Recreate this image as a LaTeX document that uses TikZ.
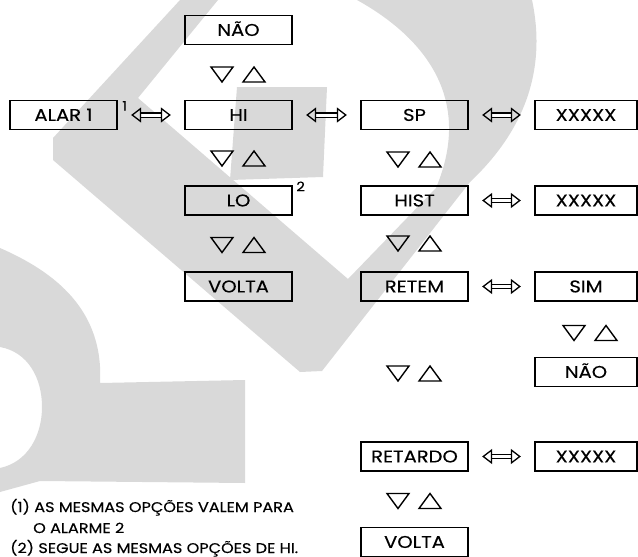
\documentclass[tikz,border=0pt]{standalone}
\usepackage{fontspec}
\setmainfont{Poppins}[FakeStretch=1.15,FakeBold=0.3]
\usetikzlibrary{arrows.meta,positioning}
\definecolor{logo}{RGB}{217,217,217}

\begin{document}
\begin{tikzpicture}[x=1pt,y=-1pt,
    menubox/.style={draw,line width=1.3pt,minimum height=29pt,inner sep=0pt,
      text height=11.8pt,text depth=0pt,font=\fontsize{17}{17}\selectfont},
    dblarrow/.style={double,double distance=3pt,line width=1.3pt,
      {Triangle[open,length=10pt,width=15pt]}-{Triangle[open,length=10pt,width=15pt]},
      shorten <=13.5pt,shorten >=13.5pt},
    note/.style={anchor=base west,inner sep=0pt,font=\fontsize{14}{14}\selectfont},
    fnmark/.style={inner sep=0pt,font=\fontsize{13}{13}\selectfont},
    updown/.pic={\draw[line width=1.4pt] (-27,-7.5) -- (-5,-7.5) -- (-16,7.5) -- cycle
      (5,7.5) -- (27,7.5) -- (16,-7.5) -- cycle;}]
  \useasboundingbox (0,0) rectangle (638,557);
  % logo in the background
  \begin{scope}
    \clip (0,0) rectangle (638,557);
    \fill[logo] (180,0) -- (53,138) -- (53,160) -- (300,372) -- (322,371) -- (470,182)
      .. controls (520,135) and (548,75) .. (532,0) -- (357,0)
      .. controls (420,35) and (475,95) .. (436,188) -- (348,279) -- (138,98) -- (218,0) -- cycle;
    \fill[logo] (237,87) -- (327,87) -- (323,177) -- (230,180) -- cycle;
    \fill[logo] (0,248) .. controls (55,272) and (104,310) .. (100,383) -- (245,380) -- (245,483)
      -- (40,481) -- (0,492) -- (0,468) .. controls (28,462) and (42,435) .. (42,407)
      .. controls (42,378) and (28,352) .. (0,347) -- cycle;
  \end{scope}
  % menu boxes
  \foreach \n/\x/\y/\w/\t in {
      nao/238.5/30/107/NÃO, alar/63.5/115/107/ALAR 1, hi/238.5/115/107/HI,
      lo/238.5/200.5/107/LO, voltaa/238.5/286.5/107/VOLTA,
      sp/414.5/115/107/SP, hist/414.5/200.5/107/HIST, retem/414.5/286.5/107/RETEM,
      retardo/414.5/456.5/107/RETARDO, voltab/414.5/542/107/VOLTA,
      xa/586/115/102/XXXXX, xb/586/200.5/102/XXXXX, sim/586/286.5/102/SIM,
      naob/586/372/102/NÃO, xc/586/456.5/102/XXXXX}
    \node[menubox,minimum width=\w pt] (\n) at (\x,\y) {\t};
  \foreach \a/\b in {alar/hi, hi/sp, sp/xa, hist/xb, retem/sim, retardo/xc}
    \draw[dblarrow] (\a) -- (\b);
  % up/down keys
  \foreach \x/\y in {238/74.5, 238/158.5, 238/245, 414/159.5, 414/243.5, 414/373.5,
      414/501, 590/333}
    \pic at (\x,\y) {updown};
  \node[fnmark] (s1) at ([xshift=7pt,yshift=-6pt]alar.north east) {1};
  \node[fnmark] (s2) at ([xshift=8pt,yshift=-1pt]lo.north east) {2};
  % notes
  \node[note] (n1) at (10,512) {(1) AS MESMAS OPÇÕES VALEM PARA};
  \node[note] (n2) at (33,533) {O ALARME 2};
  \node[note] (n3) at (10,553) {(2) SEGUE AS MESMAS OPÇÕES DE HI.};
\end{tikzpicture}
\end{document}
